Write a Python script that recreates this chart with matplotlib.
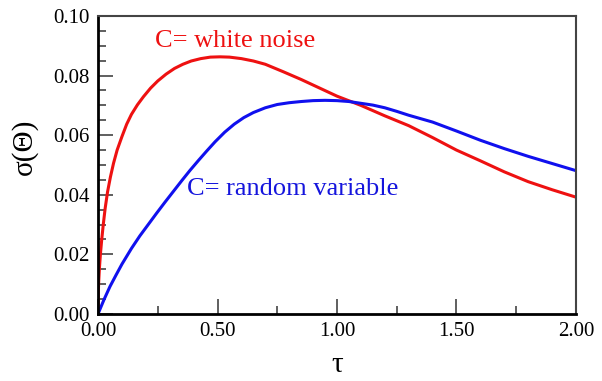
import matplotlib
matplotlib.use('Agg')
import matplotlib.pyplot as plt
from matplotlib.ticker import MultipleLocator, FormatStrFormatter

# sigma(Theta) against tau for the two choices of C
tau_white = [0.0, 0.001, 0.003, 0.006, 0.010, 0.015, 0.022, 0.030, 0.040, 0.052,
             0.065, 0.080, 0.100, 0.120, 0.140, 0.165, 0.190, 0.220, 0.250, 0.285,
             0.320, 0.355, 0.390, 0.430, 0.470, 0.510, 0.550, 0.600, 0.650, 0.700,
             0.775, 0.850, 0.925, 1.000, 1.100, 1.200, 1.300, 1.400, 1.500, 1.600,
             1.700, 1.800, 1.900, 2.000]
sigma_white = [0.0, 0.0065, 0.0110, 0.0155, 0.0200, 0.0245, 0.0300, 0.0355, 0.0410,
               0.0460, 0.0506, 0.0550, 0.0595, 0.0637, 0.0670, 0.0702, 0.0729,
               0.0758, 0.0782, 0.0805, 0.0824, 0.0838, 0.0849, 0.0857, 0.0862,
               0.0863, 0.0862, 0.0857, 0.0849, 0.0838, 0.0813, 0.0787, 0.0759,
               0.0731, 0.0700, 0.0665, 0.0632, 0.0592, 0.0550, 0.0514, 0.0477,
               0.0444, 0.0417, 0.0392]

tau_random = [0.0, 0.025, 0.05, 0.075, 0.10, 0.14, 0.175, 0.21, 0.245, 0.28, 0.315,
              0.35, 0.385, 0.42, 0.455, 0.49, 0.53, 0.57, 0.61, 0.65, 0.70, 0.75,
              0.80, 0.85, 0.90, 0.95, 1.00, 1.05, 1.10, 1.15, 1.20, 1.25, 1.30,
              1.40, 1.50, 1.60, 1.70, 1.80, 1.90, 2.00]
sigma_random = [0.0, 0.0048, 0.0092, 0.0130, 0.0167, 0.0220, 0.0262, 0.0300, 0.0338,
                0.0375, 0.0411, 0.0447, 0.0482, 0.0515, 0.0547, 0.0578, 0.0610,
                0.0637, 0.0659, 0.0676, 0.0692, 0.0703, 0.0709, 0.0713, 0.0716,
                0.0717, 0.0716, 0.0713, 0.0707, 0.0701, 0.0692, 0.0680, 0.0667,
                0.0644, 0.0614, 0.0583, 0.0555, 0.0529, 0.0505, 0.0481]

plt.rcParams['font.family'] = ['Liberation Serif', 'DejaVu Serif']

fig = plt.figure(figsize=(6.02, 3.81), dpi=100)
ax = fig.add_axes([0.1628, 0.1759, 0.794, 0.7821])

ax.plot(tau_white, sigma_white, color='#ee1111', lw=2.2, solid_joinstyle='round')
ax.plot(tau_random, sigma_random, color='#1010ee', lw=2.2, solid_joinstyle='round')

ax.text(0.238, 0.0915, 'C= white noise', color='#ee1111', fontsize=19, va='center')
ax.text(0.372, 0.042, 'C= random variable', color='#1515dd', fontsize=19, va='center')

ax.set_xlim(0, 2.0)
ax.set_ylim(0, 0.10)
ax.xaxis.set_major_locator(MultipleLocator(0.5))
ax.xaxis.set_minor_locator(MultipleLocator(0.25))
ax.yaxis.set_major_locator(MultipleLocator(0.02))
ax.yaxis.set_minor_locator(MultipleLocator(0.005))
ax.xaxis.set_major_formatter(FormatStrFormatter('%.2f'))
ax.yaxis.set_major_formatter(FormatStrFormatter('%.2f'))
ax.tick_params(which='both', direction='in', colors='#444444', labelcolor='black',
               labelsize=15, top=False, right=False)
ax.tick_params(which='major', length=11, width=1.2)
ax.tick_params(which='minor', length=6, width=1.2)
ax.tick_params(axis='x', pad=6)
ax.tick_params(axis='y', pad=6)

for side in ['left', 'bottom']:
    ax.spines[side].set_linewidth(2.0)
    ax.spines[side].set_color('black')
for side in ['top', 'right']:
    ax.spines[side].set_linewidth(1.5)
    ax.spines[side].set_color('#444444')

ax.set_xlabel('τ', fontsize=21, labelpad=8)
ax.set_ylabel('σ(Θ)', fontsize=21, labelpad=10)
ax.yaxis.set_label_coords(-0.125, 0.56)

fig.savefig('out.png', dpi=100)
